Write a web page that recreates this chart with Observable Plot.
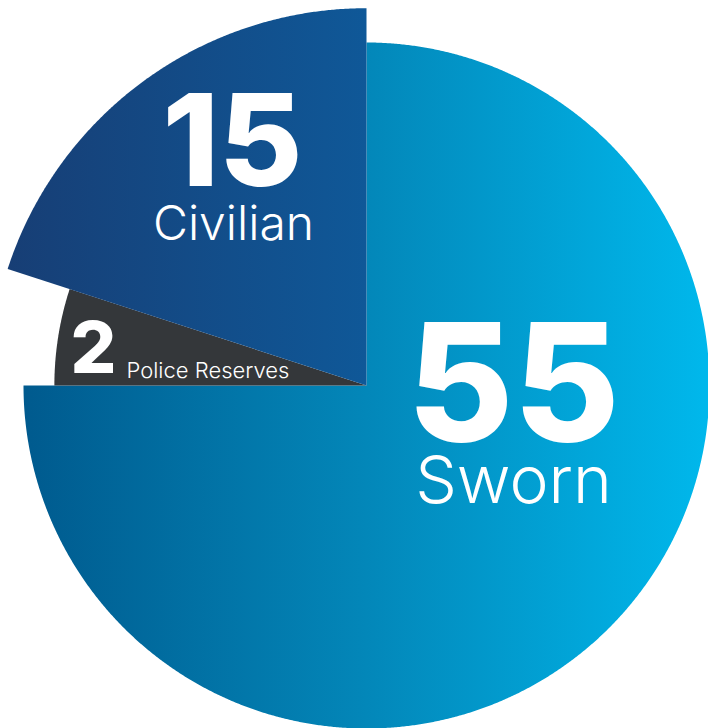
<!DOCTYPE html>
<html>
<head>
<meta charset="utf-8">
<script src="https://cdn.jsdelivr.net/npm/d3@7"></script>
<script src="https://cdn.jsdelivr.net/npm/@observablehq/plot@0.6"></script>
<style>
  html, body { margin: 0; padding: 0; background: #ffffff; }
  #chart svg { display: block; }
</style>
</head>
<body>
<div id="chart"></div>
<script>
// ---- Data ----
const categories = ["Sworn", "Police Reserves", "Civilian"];
const counts = [55, 2, 15];
// slice sizes as drawn in the picture (percent of the circle)
const sliceShares = [75, 5, 20];

// ---- Style / layout (not data) ----
const W = 708, H = 728;
const R = 343;                                   // base radius (scale units)
const radiusFactor = { "Sworn": 1.0, "Police Reserves": 0.91, "Civilian": 1.1 };
const fills = { "Sworn": "url(#gradSworn)", "Police Reserves": "#34373a", "Civilian": "url(#gradCivilian)" };
// label anchors (scale units, origin = pie centre)
const labelLayout = {
  "Sworn":           { nx: 147, ny: 55,   nSize: 163, lx: 147, ly: 117, lSize: 66, lAnchor: "middle", nAnchor: "middle" },
  "Civilian":        { nx: -134, ny: -200, nSize: 128, lx: -133, ly: -146, lSize: 48, lAnchor: "middle", nAnchor: "middle" },
  "Police Reserves": { nx: -296, ny: -13,  nSize: 72,  lx: -240, ly: -8,   lSize: 22, lAnchor: "start",  nAnchor: "start" }
};

// ---- Build slice polygons from data ----
const pie = d3.pie().sort(null).value(d => d.share);
const rows = categories.map((c, i) => ({ category: c, count: counts[i], share: sliceShares[i] }));
const arcs = pie(rows);

function slicePoints(a) {
  const r = R * radiusFactor[a.data.category];
  const pts = [{ x: 0, y: 0 }];
  const n = Math.max(2, Math.ceil((a.endAngle - a.startAngle) / (Math.PI / 720)));
  for (let k = 0; k <= n; k++) {
    const t = a.startAngle + (a.endAngle - a.startAngle) * k / n;
    pts.push({ x: r * Math.sin(t), y: -r * Math.cos(t) });
  }
  pts.push({ x: 0, y: 0 });
  return pts;
}

const sliceMarks = arcs.map(a =>
  Plot.line(slicePoints(a), { x: "x", y: "y", fill: fills[a.data.category], stroke: "none", curve: "linear" })
);

const labels = rows.map(d => ({ ...d, ...labelLayout[d.category] }));
const font = "Inter, 'Open Sans', sans-serif";

const textMarks = labels.flatMap(d => [
  Plot.text([d], { x: "nx", y: "ny", text: dd => String(dd.count), fill: "white",
    fontSize: d.nSize, fontWeight: 800, fontFamily: font, textAnchor: d.nAnchor, lineAnchor: "bottom" }),
  Plot.text([d], { x: "lx", y: "ly", text: "category", fill: "white",
    fontSize: d.lSize, fontWeight: 300, fontFamily: font, textAnchor: d.lAnchor, lineAnchor: "bottom",
    letterSpacing: d.category === "Police Reserves" ? "0.3px" : null })
]);

const chart = Plot.plot({
  width: W,
  height: H,
  margin: 0,
  x: { domain: [-366, 342], range: [0, W], axis: null },
  y: { domain: [-385, 343], range: [0, H], axis: null },
  style: { background: "#ffffff" },
  marks: [...sliceMarks, ...textMarks]
});

// gradients
const defs = d3.select(chart).insert("defs", ":first-child");
const g1 = defs.append("linearGradient").attr("id", "gradSworn").attr("x1", "0").attr("x2", "1").attr("y1", "0").attr("y2", "0");
g1.append("stop").attr("offset", "0").attr("stop-color", "#005a8e");
g1.append("stop").attr("offset", "0.5").attr("stop-color", "#0387b9");
g1.append("stop").attr("offset", "1").attr("stop-color", "#00b8ec");
const g2 = defs.append("linearGradient").attr("id", "gradCivilian").attr("x1", "0").attr("x2", "1").attr("y1", "0").attr("y2", "0");
g2.append("stop").attr("offset", "0").attr("stop-color", "#173e75");
g2.append("stop").attr("offset", "1").attr("stop-color", "#0f5898");

document.getElementById("chart").appendChild(chart);
</script>
</body>
</html>
